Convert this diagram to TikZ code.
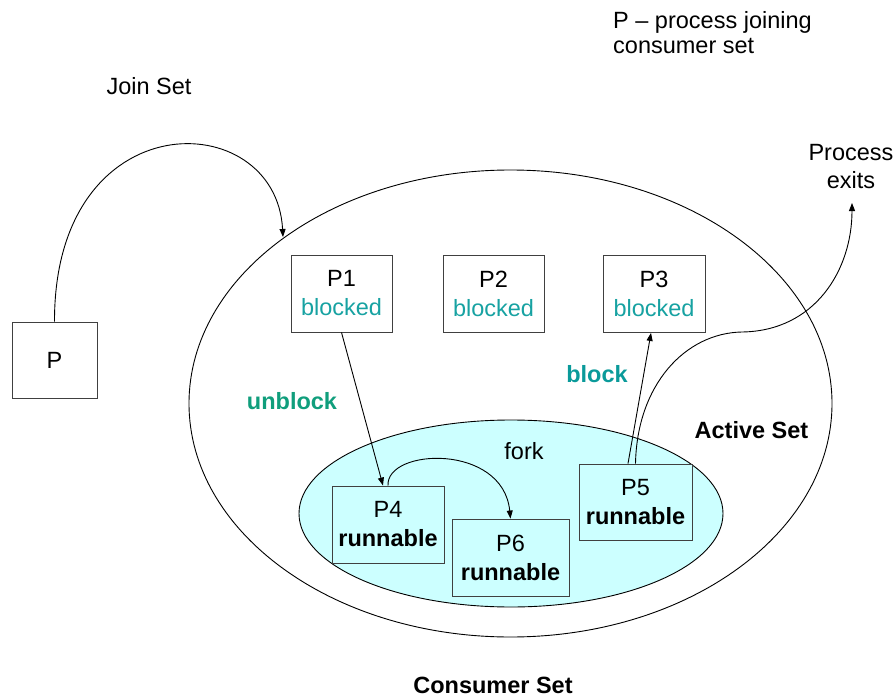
\documentclass[tikz,border=0pt]{standalone}
\usepackage{fontspec}
\setmainfont{Liberation Sans}
\usetikzlibrary{arrows.meta,calc}
\definecolor{setfill}{HTML}{CCFFFF}
\definecolor{boxline}{HTML}{404040}
\definecolor{blockedtxt}{HTML}{17A2A2}
\definecolor{blocktxt}{HTML}{0A9A9A}
\definecolor{unblocktxt}{HTML}{109E7C}
\begin{document}
\begin{tikzpicture}[x=1pt,y=-1pt,
  font=\fontsize{23.5}{28}\selectfont,
  proc/.style={draw=boxline, line width=0.9pt, minimum height=77pt, inner sep=0pt, align=center},
  conn/.style={-{Triangle[length=8pt,width=6pt]}, line width=0.9pt},
  lbl/.style={inner sep=0pt, anchor=base},
  state/.style={text=blockedtxt}]
\useasboundingbox (0,0) rectangle (894,698);

% consumer set and active set regions
\draw[line width=0.9pt] (510.5,403.5) ellipse [x radius=321.5pt, y radius=233.5pt];
\draw[line width=0.9pt, fill=setfill] (511,513.5) ellipse [x radius=212pt, y radius=93.5pt];

% processes
\node[proc, fill=white, minimum width=85pt, minimum height=76pt] (pp) at (54.5,360) {P};
\node[proc, fill=white, minimum width=101pt] (p1) at (341.5,293.5) {P1\\[1pt]\color{blockedtxt}blocked};
\node[proc, fill=white, minimum width=101pt] (p2) at (493.5,293.5) {P2\\[1pt]\color{blockedtxt}blocked};
\node[proc, fill=white, minimum width=102pt] (p3) at (654,294) {P3\\[1pt]\color{blockedtxt}blocked};
\node[proc, fill=setfill, minimum width=112pt] (p4) at (388,524.5) {P4\\[1pt]\bfseries runnable};
\node[proc, fill=setfill, minimum width=117pt] (p6) at (510.5,557.5) {P6\\[1pt]\bfseries runnable};
\node[proc, fill=setfill, minimum width=113pt, minimum height=76pt] (p5) at (635.5,502) {P5\\[1pt]\bfseries runnable};

% labels
\node[inner sep=0pt, anchor=west, align=left, font=\fontsize{23.5}{25}\selectfont] (legend) at (613,32.5) {P -- process joining\\consumer set};
\node[lbl] (join) at (149,95) {Join Set};
\node[inner sep=0pt, align=center] (exits) at (851,166.5) {Process\\exits};
\node[lbl, text=unblocktxt, font=\fontsize{23.5}{28}\selectfont\bfseries] (unblock) at (292,409) {unblock};
\node[lbl, text=blocktxt, font=\fontsize{23.5}{28}\selectfont\bfseries] (block) at (597,382) {block};
\node[lbl, font=\fontsize{23.5}{28}\selectfont\bfseries] (active) at (751.5,438) {Active Set};
\node[lbl] (fork) at (524,459) {fork};
\node[lbl, font=\fontsize{23.5}{28}\selectfont\bfseries] (consumer) at (493,693) {Consumer Set};

% connectors
\coordinate (joinpt) at (283,237);
\coordinate (exitpt) at (852,203);
\draw[conn] (pp.north) .. controls (54,100) and (276,105) .. (joinpt);
\draw[conn] (p1.south) -- ($(p4.north)+(-5,0)$);
\draw[conn] (p4.north) .. controls (386,448) and (503,443) .. (p6.north);
\draw[conn] ($(p5.north)+(-7.5,0)$) -- ($(p3.south)+(-3,0)$);
\draw[conn] (p5.north) .. controls (637,385) and (685,333) .. (742,332)
  .. controls (815,331) and (852,270) .. (exitpt);
\end{tikzpicture}
\end{document}
